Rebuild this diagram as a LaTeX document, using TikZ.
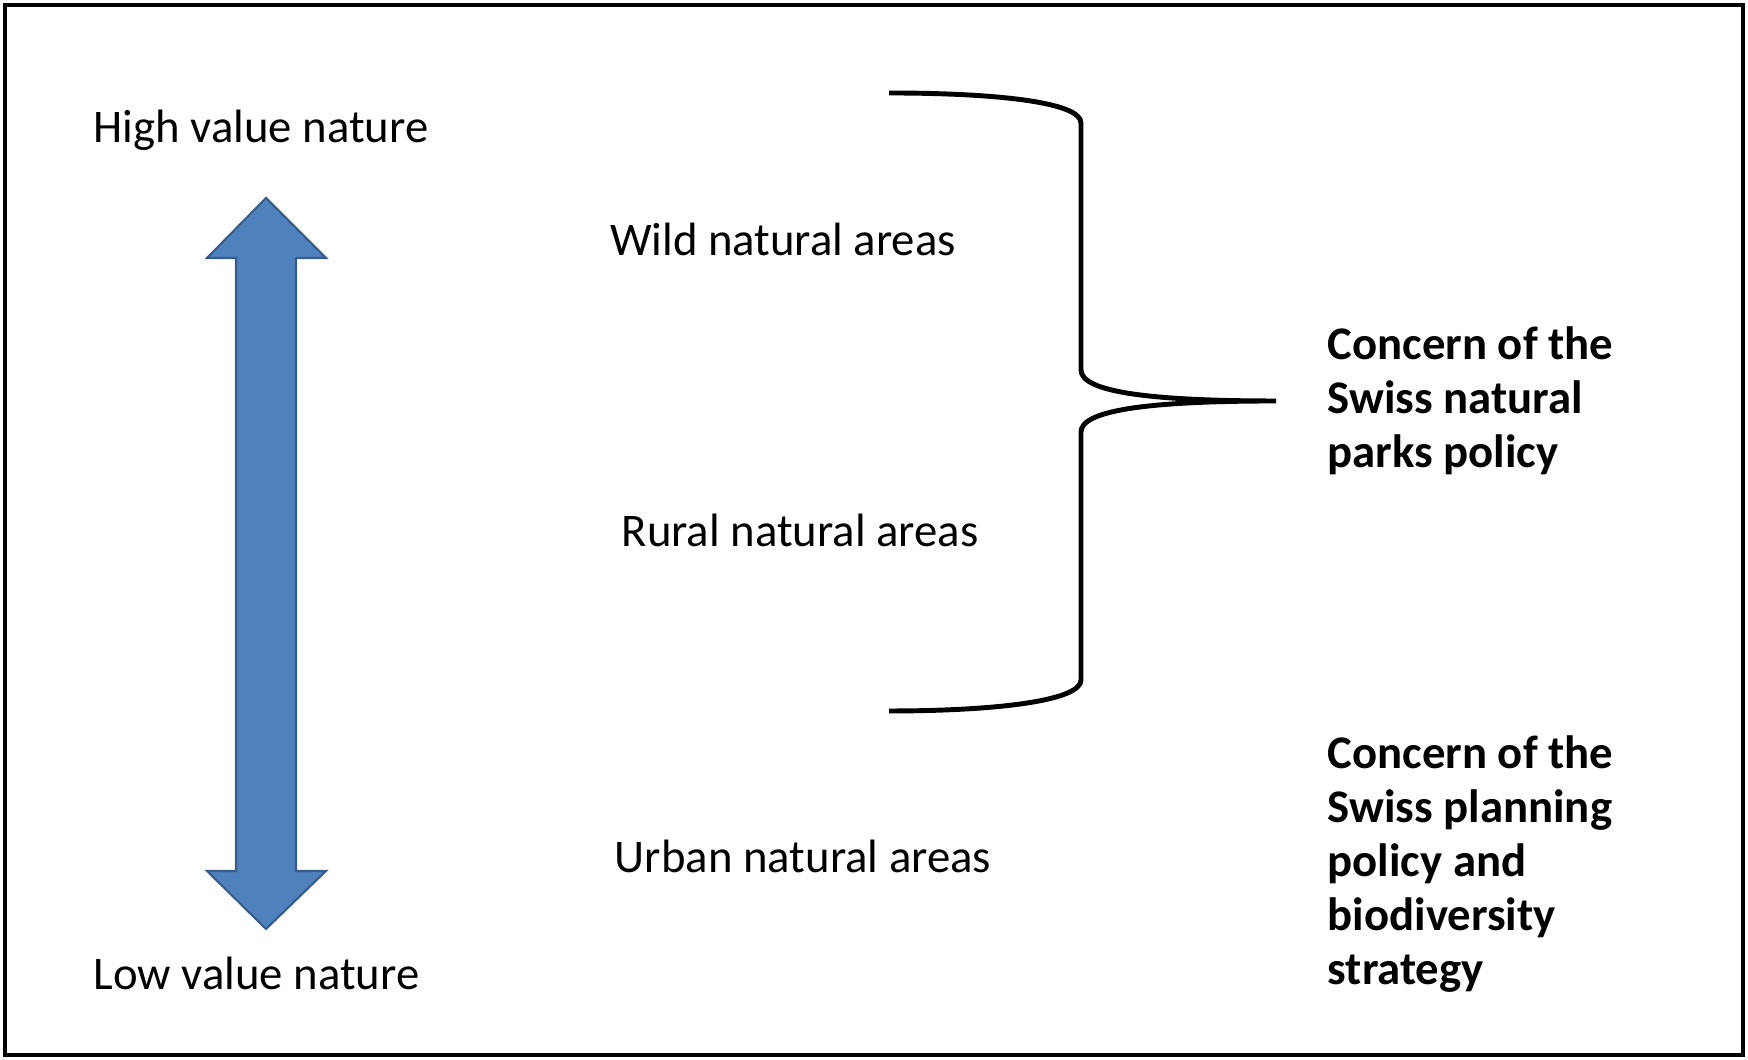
\documentclass[tikz,border=0pt]{standalone}
\usepackage{fontspec}
\setmainfont{Carlito}
\definecolor{arrowblue}{RGB}{79,129,189}
\definecolor{arrowedge}{RGB}{56,93,138}
\tikzset{
  label text/.style={inner sep=0pt, font=\fontsize{13.3}{15.4}\selectfont},
  concern text/.style={label text, anchor=west, align=left, font=\fontsize{13.3}{15.4}\selectfont\bfseries},
}
\begin{document}
\begin{tikzpicture}
            \useasboundingbox (0,0) rectangle (17.48,10.60);
            \draw [line width=1.4pt] (0.05,0.05) rectangle (17.43,10.55);
            \filldraw [fill=arrowblue, draw=arrowedge, line width=0.6pt]
                (2.66,8.62) -- (3.26,8.02) -- (2.96,8.02) -- (2.96,1.89) -- (3.26,1.89)
                -- (2.66,1.31) -- (2.07,1.89) -- (2.36,1.89) -- (2.36,8.02) -- (2.07,8.02) -- cycle;
            \node [label text, anchor=west] (high) at (0.93,9.30) {High value nature};
            \node [label text, anchor=west] (low) at (0.93,0.87) {Low value nature};
            \node [label text] (wild) at (7.83,8.21) {Wild natural areas};
            \node [label text] (rural) at (8.00,5.30) {Rural natural areas};
            \node [label text] (urban) at (8.03,2.04) {Urban natural areas};
            \coordinate (tip) at (12.76,6.59);
            \draw [line width=1.4pt]
                (8.89,9.67) .. controls (9.95,9.67) and (10.81,9.58) .. (10.81,9.37)
                -- (10.81,6.90) .. controls (10.81,6.68) and (11.5,6.59) .. (tip)
                .. controls (11.5,6.59) and (10.81,6.50) .. (10.81,6.28)
                -- (10.81,3.80) .. controls (10.81,3.59) and (9.95,3.49) .. (8.89,3.49);
            \node [concern text] (parks) at (13.27,6.59) {Concern of the\\Swiss natural\\parks policy};
            \node [concern text] (planning) at (13.27,1.96) {Concern of the\\Swiss planning\\policy and\\biodiversity\\strategy};
        \end{tikzpicture}
\end{document}
